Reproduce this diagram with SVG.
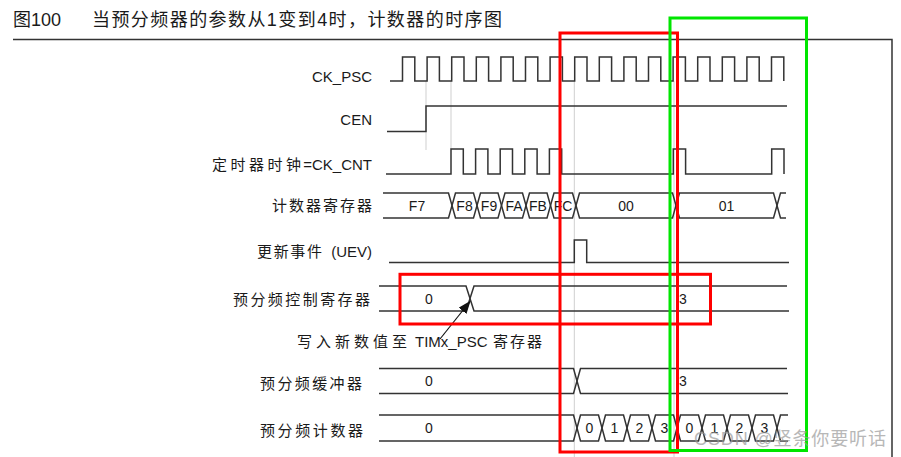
<svg xmlns="http://www.w3.org/2000/svg" width="901" height="457" viewBox="0 0 901 457">
<defs>
<style>
.t{font-family:"Liberation Sans","Noto Sans CJK SC",sans-serif;fill:#1a1a1a}
.lbl{font-size:15px}
.end{text-anchor:end}
.v{font-size:14px;text-anchor:middle}
.w{fill:none;stroke:#333;stroke-width:1.5;stroke-linejoin:miter}
.g{stroke:#cfcfcf;stroke-width:1;fill:none}
.frame{stroke:#333;stroke-width:1.5;fill:none}
.red{fill:none;stroke:#ff0000;stroke-width:3}
.grn{fill:none;stroke:#00e600;stroke-width:3}
</style>
<marker id="ah" markerWidth="13" markerHeight="10" refX="12" refY="5" orient="auto" markerUnits="userSpaceOnUse">
<path d="M0,0 L13,5 L0,10 Z" fill="#111"/>
</marker>
</defs>
<rect width="901" height="457" fill="#fff"/>

<g id="title">
<text class="t" x="13" y="26" font-size="18">图100</text>
<text class="t" x="92" y="26" font-size="18" textLength="410" lengthAdjust="spacing">当预分频器的参数从1变到4时，计数器的时序图</text>
<path class="frame" d="M13,39.5 H892 V457"/>
</g>

<g id="guides">
<path class="g" d="M426,81 V150 M451,81 V149 M574.3,81 V457 M674,81 V457"/>
</g>

<g id="ck_psc">
<text class="t lbl end" x="372" y="82">CK_PSC</text>
<path class="w" d="M390,81 H402.5 v-24 h12.3 v24 h12.3 v-24 h12.3 v24 h12.3 v-24 h12.3 v24 h12.3 v-24 h12.3 v24 h12.3 v-24 h12.3 v24 h12.3 v-24 h12.3 v24 h12.3 v-24 h12.3 v24 h12.3 v-24 h12.3 v24 h12.3 v-24 h12.3 v24 h12.3 v-24 h12.3 v24 h12.3 v-24 h12.3 v24 h12.3 v-24 h12.3 v24 h12.3 v-24 h12.3 v24 h12.3 v-24 h12.3 v24 h12.3 v-24 h12.3 v24 h12.3 v-24 h12.3 v24"/>
</g>

<g id="cen">
<text class="t lbl end" x="372" y="125">CEN</text>
<path class="w" d="M387,131.5 H426 V106 H787"/>
</g>

<g id="ck_cnt">
<text class="t lbl" x="212" y="169.5" textLength="89" lengthAdjust="spacing">定时器时钟</text>
<text class="t lbl end" x="372" y="169.5">=CK_CNT</text>
<path class="w" d="M386,174 H451 v-25 h12.3 v25 h12.3 v-25 h12.3 v25 h12.3 v-25 h12.3 v25 h12.3 v-25 h12.3 v25 h12.3 v-25 h12.3 v25 H673.3 v-25 h12.3 v25 H771.7 v-25 h12.3 v25"/>
</g>

<g id="counter_register">
<text class="t lbl" x="272" y="210.5" textLength="100" lengthAdjust="spacing">计数器寄存器</text>
<path class="w" d="M383,193 H448.5 L452,205.5 L448.5,218 H383"/>
<path class="w" d="M452,205.5 L455.5,193 H473.5 L477,205.5 L473.5,218 H455.5 Z"/>
<path class="w" d="M477,205.5 L480.5,193 H498 L501.5,205.5 L498,218 H480.5 Z"/>
<path class="w" d="M501.5,205.5 L505,193 H522.5 L526,205.5 L522.5,218 H505 Z"/>
<path class="w" d="M526,205.5 L529.5,193 H547 L550.5,205.5 L547,218 H529.5 Z"/>
<path class="w" d="M550.5,205.5 L554,193 H572.5 L576,205.5 L572.5,218 H554 Z"/>
<path class="w" d="M576,205.5 L579.5,193 H672.5 L676,205.5 L672.5,218 H579.5 Z"/>
<path class="w" d="M676,205.5 L679.5,193 H773.5 L777,205.5 L773.5,218 H679.5 Z"/>
<path class="w" d="M786,193 H780.5 L777,205.5 L780.5,218 H786"/>
<text class="t v" x="417" y="210.5">F7</text>
<text class="t v" x="464.5" y="210.5">F8</text>
<text class="t v" x="489" y="210.5">F9</text>
<text class="t v" x="514" y="210.5">FA</text>
<text class="t v" x="538" y="210.5">FB</text>
<text class="t v" x="563" y="210.5">FC</text>
<text class="t v" x="626" y="210.5">00</text>
<text class="t v" x="726.5" y="210.5">01</text>
</g>

<g id="uev">
<text class="t lbl" x="257" y="257" textLength="65" lengthAdjust="spacing">更新事件</text>
<text class="t lbl end" x="372" y="257">(UEV)</text>
<path class="w" d="M389,262.5 H574.3 V240 H586.7 V262.5 H789"/>
</g>

<g id="psc_control">
<text class="t lbl" x="233" y="304.5" textLength="137" lengthAdjust="spacing">预分频控制寄存器</text>
<path class="w" d="M379,286 H466 L470,298.5 L466,311 H379"/>
<path class="w" d="M787,286 H474 L470,298.5 L474,311 H789"/>
<text class="t v" x="429" y="303.5">0</text>
<text class="t v" x="683" y="303.5">3</text>
</g>

<g id="note">
<text class="t lbl" x="297" y="347" textLength="110" lengthAdjust="spacing">写入新数值至</text>
<text class="t lbl" x="415" y="347">TIMx_PSC</text>
<text class="t lbl" x="493" y="347" textLength="49" lengthAdjust="spacing">寄存器</text>
</g>

<g id="psc_buffer">
<text class="t lbl" x="260" y="388.5" textLength="102" lengthAdjust="spacing">预分频缓冲器</text>
<path class="w" d="M379,368.5 H573.5 L577,381 L573.5,393.5 H379"/>
<path class="w" d="M787,368.5 H580.5 L577,381 L580.5,393.5 H788"/>
<text class="t v" x="429" y="386">0</text>
<text class="t v" x="683" y="386">3</text>
</g>

<g id="psc_counter">
<text class="t lbl" x="260" y="435.5" textLength="103" lengthAdjust="spacing">预分频计数器</text>
<path class="w" d="M379,415 H573.5 L577,428 L573.5,441 H379"/>
<path class="w" d="M577,428 L580.5,415 H598.5 L602,428 L598.5,441 H580.5 Z"/>
<path class="w" d="M602,428 L605.5,415 H623.5 L627,428 L623.5,441 H605.5 Z"/>
<path class="w" d="M627,428 L630.5,415 H648.5 L652,428 L648.5,441 H630.5 Z"/>
<path class="w" d="M652,428 L655.5,415 H673.5 L677,428 L673.5,441 H655.5 Z"/>
<path class="w" d="M677,428 L680.5,415 H698.5 L702,428 L698.5,441 H680.5 Z"/>
<path class="w" d="M702,428 L705.5,415 H723.5 L727,428 L723.5,441 H705.5 Z"/>
<path class="w" d="M727,428 L730.5,415 H748.5 L752,428 L748.5,441 H730.5 Z"/>
<path class="w" d="M752,428 L755.5,415 H773.5 L777,428 L773.5,441 H755.5 Z"/>
<path class="w" d="M788,415 H780.5 L777,428 L780.5,441 H788"/>
<text class="t v" x="429" y="433">0</text>
<text class="t v" x="589.5" y="433">0</text>
<text class="t v" x="614.5" y="433">1</text>
<text class="t v" x="639.5" y="433">2</text>
<text class="t v" x="664.5" y="433">3</text>
<text class="t v" x="689.5" y="433">0</text>
<text class="t v" x="714.5" y="433">1</text>
<text class="t v" x="739.5" y="433">2</text>
<text class="t v" x="764.5" y="433">3</text>
</g>

<g id="connectors">
<line x1="440" y1="339" x2="470" y2="301.5" stroke="#111" stroke-width="1.2" marker-end="url(#ah)"/>
</g>

<g id="highlights">
<rect class="red" x="560" y="33" width="117.5" height="419"/>
<rect class="red" x="400" y="274.3" width="310.5" height="49.7"/>
<rect class="grn" x="670" y="18" width="136.5" height="432.5"/>
</g>

<g id="watermark">
<text class="t" x="694" y="444.5" font-size="18" style="fill:#9a9a9a" opacity="0.7" textLength="192" lengthAdjust="spacing">CSDN @竖条你要听话</text>
</g>
</svg>
